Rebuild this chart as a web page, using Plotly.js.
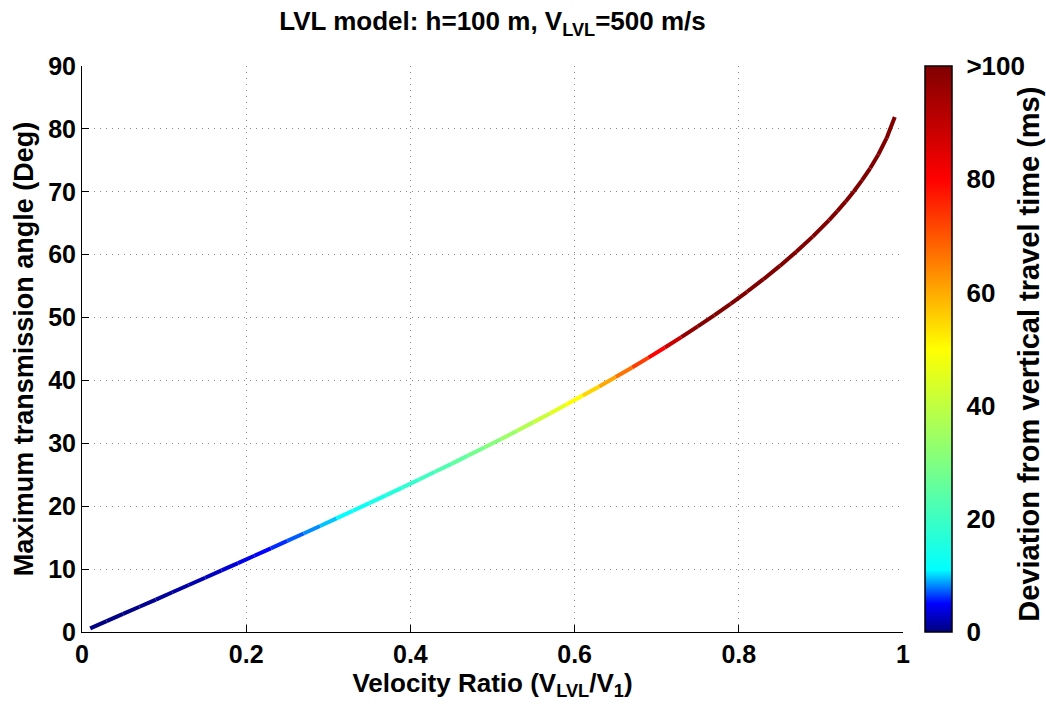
<!DOCTYPE html>
<html>
<head>
<meta charset="utf-8">
<script src="https://cdn.plot.ly/plotly-3.0.1.min.js"></script>
<style>html,body{margin:0;padding:0;background:#fff;}#chart{width:1046px;height:707px;}</style>
</head>
<body>
<div id="chart"></div>
<script>
// Velocity ratio V_LVL/V_1 (x)
const velocityRatio = [0.01,0.03,0.05,0.07,0.09,0.11,0.13,0.15,0.17,0.19,0.21,0.23,0.25,0.27,0.29,0.31,0.33,0.35,0.37,0.39,0.41,0.43,0.45,0.47,0.49,0.51,0.53,0.55,0.57,0.59,0.61,0.63,0.65,0.67,0.69,0.71,0.73,0.75,0.77,0.79,0.81,0.83,0.85,0.87,0.89,0.91,0.92,0.93,0.94,0.95,0.96,0.97,0.98,0.99];
// Maximum transmission angle (deg)
const maxAngle = [0.57,1.72,2.87,4.01,5.16,6.32,7.47,8.63,9.79,10.95,12.12,13.30,14.48,15.66,16.86,18.06,19.27,20.49,21.72,22.95,24.21,25.47,26.74,28.04,29.34,30.66,32.01,33.37,34.75,36.16,37.59,39.05,40.54,42.07,43.63,45.24,46.89,48.59,50.35,52.19,54.10,56.10,58.21,60.46,62.87,65.50,66.93,68.43,70.05,71.81,73.74,75.93,78.52,81.89];
// Deviation from vertical travel time (ms)
const deviation = [0.01,0.09,0.25,0.49,0.81,1.22,1.70,2.28,2.95,3.71,4.55,5.51,6.56,7.71,8.98,10.36,11.87,13.50,15.28,17.20,19.28,21.53,23.96,26.59,29.43,32.51,35.85,39.47,43.42,47.71,52.40,57.53,63.18,69.41,76.32,84.01,92.63,102.4,113.5,126.2,141.0,158.6,179.7,205.6,238.6,282.4,310.3,344.1,386.2,440.5,514.3,622.7,805.0,1217.8];
// Colour bar ticks
const cbTickVals = [0,20,40,60,80,100];
const cbTickText = ['0','20','40','60','80','>100'];
const cbTitle = 'Deviation from vertical travel time (ms)';
const xTickVals = [0,0.2,0.4,0.6,0.8,1];
const xTickText = ['0','0.2','0.4','0.6','0.8','1'];
const yTickVals = [0,10,20,30,40,50,60,70,80,90];

// colour map (jet-like, stretched)
const csStops = [0,0.05,0.11,0.30,0.50,0.80,1];
const csRGB = [[0,0,128],[0,0,255],[0,255,255],[128,255,128],[255,255,0],[255,0,0],[128,0,0]];
const colorscale = csStops.map((s,i)=>[s,'rgb('+csRGB[i].join(',')+')']);
const CMIN=0, CMAX=100;
function colorFor(v){
  let t=(Math.min(Math.max(v,CMIN),CMAX)-CMIN)/(CMAX-CMIN);
  for(let i=0;i<csStops.length-1;i++){
    if(t<=csStops[i+1]){
      const f=(t-csStops[i])/(csStops[i+1]-csStops[i]);
      const c=csRGB[i].map((a,k)=>Math.round(a+(csRGB[i+1][k]-a)*f));
      return 'rgb('+c.join(',')+')';
    }
  }
  return 'rgb('+csRGB[csRGB.length-1].join(',')+')';
}

const FONT='Liberation Sans, Arial, Helvetica, sans-serif';
const ML=82, MR=143, PW=1046-ML-MR;
const CB_LEFT=925, CB_W=27;
const traces=[];
for(let i=0;i<velocityRatio.length-1;i++){
  traces.push({
    type:'scatter', mode:'lines',
    x:[velocityRatio[i],velocityRatio[i+1]],
    y:[maxAngle[i],maxAngle[i+1]],
    line:{color:colorFor((deviation[i]+deviation[i+1])/2),width:4},
    hoverinfo:'skip', showlegend:false
  });
}
traces.push({
  type:'scatter', mode:'markers',
  x:[velocityRatio[0]], y:[maxAngle[0]],
  marker:{size:1,opacity:0,color:[deviation[0]],cmin:CMIN,cmax:CMAX,colorscale:colorscale,showscale:true,
    colorbar:{
      x:(CB_LEFT-ML)/PW, xanchor:'left', xref:'paper', xpad:0,
      y:0.5, yanchor:'middle', len:1, lenmode:'fraction', ypad:0,
      thickness:CB_W, outlinecolor:'#000', outlinewidth:1.5,
      tickvals:cbTickVals, ticktext:cbTickText,
      ticks:'outside', ticklen:9, tickcolor:'rgba(0,0,0,0)',
      tickfont:{family:FONT,size:26,color:'#000',weight:'bold'}
    }},
  hoverinfo:'skip', showlegend:false
});

// inside tick marks on both edges of the colour bar
const shapes=[];
cbTickVals.forEach(v=>{
  const yy=(v-CMIN)/(CMAX-CMIN);
  if(yy<=0||yy>=1) return;
  shapes.push({type:'line',xref:'paper',yref:'paper',x0:(CB_LEFT-ML)/PW,x1:(CB_LEFT+5-ML)/PW,y0:yy,y1:yy,line:{color:'#000',width:1.2}});
  shapes.push({type:'line',xref:'paper',yref:'paper',x0:(CB_LEFT+CB_W-5-ML)/PW,x1:(CB_LEFT+CB_W-ML)/PW,y0:yy,y1:yy,line:{color:'#000',width:1.2}});
});

const layout={
  width:1046, height:707,
  paper_bgcolor:'#fff', plot_bgcolor:'#fff',
  margin:{l:ML,r:MR,t:66,b:75,autoexpand:false},
  font:{family:FONT,color:'#000'},
  title:{text:'LVL model: h=100 m, V<sub>LVL</sub>=500 m/s',x:0.5,xref:'paper',y:0.97,yref:'container',yanchor:'middle',
    font:{family:FONT,size:26,color:'#000',weight:'bold'}},
  xaxis:{range:[0,1],tickvals:xTickVals,ticktext:xTickText,showline:true,linecolor:'#000',linewidth:1,
    ticks:'inside',ticklen:7,tickcolor:'#000',showgrid:true,gridcolor:'#8a8a8a',griddash:'1px,5px',gridwidth:1,
    zeroline:false,mirror:false,
    tickfont:{family:FONT,size:25,color:'#000',weight:'bold'},
    title:{text:'Velocity Ratio (V<sub>LVL</sub>/V<sub>1</sub>)',standoff:4,font:{family:FONT,size:26,color:'#000',weight:'bold'}}},
  yaxis:{range:[0,90],tickvals:yTickVals,showline:true,linecolor:'#000',linewidth:1,
    ticks:'inside',ticklen:7,tickcolor:'#000',showgrid:true,gridcolor:'#8a8a8a',griddash:'1px,5px',gridwidth:1,
    zeroline:false,mirror:false,
    tickfont:{family:FONT,size:25,color:'#000',weight:'bold'},
    title:{text:'Maximum transmission angle (Deg)',standoff:6,font:{family:FONT,size:27,color:'#000',weight:'bold'}}},
  shapes:shapes,
  annotations:[{
    text:cbTitle, textangle:-90, xref:'paper', yref:'paper',
    x:(1029-ML)/PW, y:0.49, xanchor:'center', yanchor:'middle', showarrow:false,
    font:{family:FONT,size:29,color:'#000',weight:'bold'}
  }]
};
Plotly.newPlot('chart',traces,layout,{displayModeBar:false,staticPlot:true});
</script>
</body>
</html>
